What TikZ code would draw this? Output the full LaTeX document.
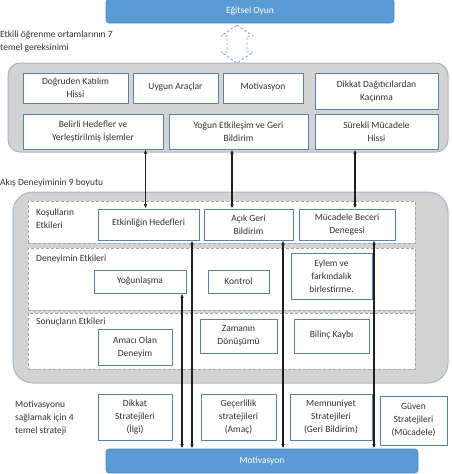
\documentclass[tikz,border=0pt]{standalone}
\usepackage{fontspec}
\setmainfont{Carlito}
\usetikzlibrary{arrows.meta,calc}
\definecolor{barblue}{HTML}{5B9BD5}
\definecolor{baredge}{HTML}{4A86C0}
\definecolor{boxblue}{HTML}{5A82AE}
\definecolor{grayfill}{HTML}{D3D3D3}
\definecolor{grayedge}{HTML}{A9B6C6}
\definecolor{dashgray}{HTML}{A6A6A6}
\definecolor{txt}{HTML}{333333}
\definecolor{arrowc}{HTML}{1E1E1E}
\definecolor{dasharr}{HTML}{90A8C8}
\begin{document}
\begin{tikzpicture}[x=1pt,y=-1pt,
  font=\fontsize{9.5}{13}\selectfont,
  box/.style={draw=boxblue, fill=white, line width=0.8pt, align=center, inner sep=1pt, text=txt},
  graybox/.style={draw=grayedge, fill=grayfill, line width=1pt},
  sect/.style={draw=dashgray, fill=white, dashed, dash pattern=on 3pt off 2pt, line width=0.9pt},
  bar/.style={fill=barblue, draw=baredge, line width=0.6pt, rounded corners=3pt, text=white},
  lbl/.style={align=left, anchor=west, inner sep=0pt, text=txt},
  arr/.style={{Latex[length=4.5pt,width=3.5pt]}-{Latex[length=4.5pt,width=3.5pt]}, line width=1.1pt, draw=arrowc},
  dasharrow/.style={draw=dasharr, dashed, dash pattern=on 2.5pt off 2pt, line width=0.9pt, line join=round}
]
\useasboundingbox (0,0) rectangle (451,474);

% top bar
\node[bar, minimum width=288pt, minimum height=24pt] (oyun) at (250,11) {Eğitsel Oyun};

% dashed double arrow
\draw[dasharrow] (237,25) -- (253,36) -- (247,36) -- (247,52) -- (253,52) -- (237,63)
  -- (221,52) -- (227,52) -- (227,36) -- (221,36) -- cycle;

\node[lbl] (lbl1) at (0,41.5) {Etkili öğrenme ortamlarının 7\\temel gereksinimi};

% gray box 1
\node[graybox, rounded corners=12pt, minimum width=440pt, minimum height=89pt] (g1) at (228,107.5) {};
\node[box, minimum width=105pt, minimum height=30pt] (dkh) at (75.5,88) {Doğruden Katılım\\Hissi};
\node[box, minimum width=85pt, minimum height=30pt] (ua) at (175.5,88) {\raisebox{4pt}{Uygun Araçlar}};
\node[box, minimum width=80pt, minimum height=30pt] (mot) at (263,88) {\raisebox{3pt}{Motivasyon}};
\node[box, minimum width=123pt, minimum height=36pt] (dd) at (376.5,91) {Dikkat Dağıtıcılardan\\Kaçınma};
\node[box, minimum width=140pt, minimum height=35pt] (bh) at (93,131.5) {Belirli Hedefler ve\\Yerleştirilmiş İşlemler};
\node[box, minimum width=139pt, minimum height=35pt] (ye) at (238.5,131.5) {Yoğun Etkileşim ve Geri\\Bildirim};
\node[box, minimum width=123pt, minimum height=35pt] (sm) at (376.5,131.5) {Sürekli Mücadele\\Hissi};

\node[lbl] (lbl2) at (0,183) {Akış Deneyiminin 9 boyutu};

% gray box 2
\node[graybox, rounded corners=20pt, minimum width=435pt, minimum height=191pt] (g2) at (230.5,287.5) {};
\node[sect, minimum width=387pt, minimum height=42pt] (s1) at (221.5,222) {};
\node[sect, minimum width=387pt, minimum height=62pt] (s2) at (221.5,279) {};
\node[sect, minimum width=387pt, minimum height=56pt] (s3) at (221.5,341) {};

\node[lbl] (ks) at (36,218.5) {Koşulların\\Etkileri};
\node[lbl] (de) at (36,259) {Deneyimin Etkileri};
\node[lbl] (se) at (36,322) {Sonuçların Etkileri};

\node[box, minimum width=101pt, minimum height=31pt] (eh) at (148.5,224.5) {\raisebox{4pt}{Etkinliğin Hedefleri}};
\node[box, minimum width=89pt, minimum height=31pt] (agb) at (248.5,224.5) {Açık Geri\\Bildirim};
\node[box, minimum width=96pt, minimum height=31pt] (mbd) at (347,224.5) {Mücadele Beceri\\Denegesi};

\node[box, minimum width=92pt, minimum height=23pt] (yog) at (140,281.5) {Yoğunlaşma};
\node[box, minimum width=61pt, minimum height=23pt] (kon) at (238.5,281.5) {Kontrol};
\node[box, minimum width=81pt, minimum height=46pt] (eyl) at (331.5,276) {Eylem ve\\farkındalık\\birlestirme.};

\node[box, minimum width=74pt, minimum height=36pt] (amac) at (135,347) {Amacı Olan\\Deneyim};
\node[box, minimum width=77pt, minimum height=34pt] (zam) at (238.5,336) {Zamanın\\Dönüşümü};
\node[box, minimum width=75pt, minimum height=34pt] (bil) at (331.5,336) {\raisebox{4pt}{Bilinç Kaybı}};

% bottom
\node[lbl] (lbl3) at (15,418) {Motivasyonu\\sağlamak için 4\\temel strateji};
\node[box, minimum width=74pt, minimum height=46pt] (dik) at (135,417) {Dikkat\\Stratejileri\\(İlgi)};
\node[box, minimum width=75pt, minimum height=46pt] (gec) at (238.5,417) {Geçerlilik\\stratejileri\\(Amaç)};
\node[box, minimum width=82pt, minimum height=46pt] (mem) at (331,417) {Memnuniyet\\Stratejileri\\(Geri Bildirim)};
\node[box, minimum width=67pt, minimum height=49pt] (guv) at (413.5,420.5) {Güven\\Stratejileri\\(Mücadele)};

\node[bar, minimum width=312pt, minimum height=24pt] (motiv) at (262,461) {Motivasyon};

% arrows upper
\draw[arr] ([xshift=-3pt]eh.north |- bh.south) -- ([xshift=-3pt]eh.north);
\draw[arr] ([xshift=-6.5pt]ye.south) -- ([xshift=-6.5pt]ye.south |- agb.north);
\draw[arr] ([xshift=-21.5pt]sm.south) -- ([xshift=-21.5pt]sm.south |- mbd.north);

% arrows lower
\draw[arr] ([xshift=42pt]yog.south) -- ([xshift=42pt]yog.south |- motiv.north);
\draw[arr] ([xshift=43.5pt]eh.south) -- ([xshift=43.5pt]eh.south |- motiv.north);
\draw[arr] ([xshift=34.5pt]agb.south) -- ([xshift=34.5pt]agb.south |- motiv.north);
\draw[arr] ([xshift=27pt]mbd.south) -- ([xshift=27pt]mbd.south |- motiv.north);
\end{tikzpicture}
\end{document}
